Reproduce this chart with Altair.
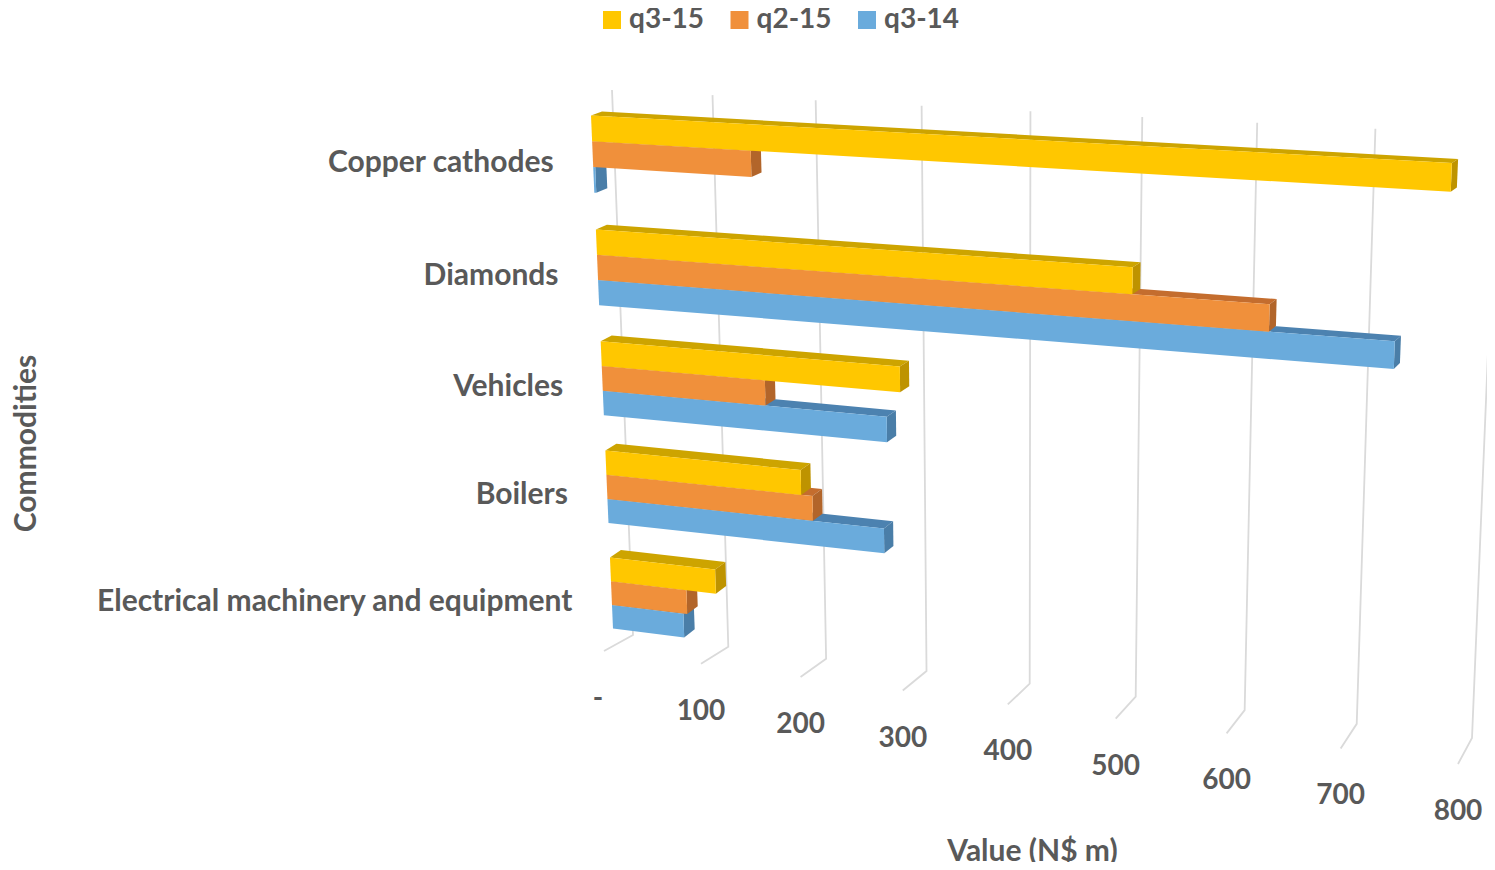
import altair as alt
import pandas as pd

categories = ["Copper cathodes", "Diamonds", "Vehicles", "Boilers", "Electrical machinery and equipment"]
series = ["q3-15", "q2-15", "q3-14"]
q3_15 = [771, 505, 293, 196, 108]
q2_15 = [155, 624, 163, 207, 78]
q3_14 = [2, 730, 280, 276, 74]
ticks = [0, 100, 200, 300, 400, 500, 600, 700, 800]
tick_labels = ["-", "100", "200", "300", "400", "500", "600", "700", "800"]
front_colors = ["#FFC700", "#F0903B", "#6AABDC"]
top_colors = ["#CDA400", "#C46D2E", "#4C82B0"]
side_colors = ["#BE9300", "#B2652A", "#4A7EA8"]
FONT = "Lato"
TEXT = "#595959"

VMAX = 800.0
NROWS = 4.675
BAR = 0.225
K_V = 1.115
K_C = 0.952


def u_of(v):
    t = v / VMAX
    return t / (t + K_V * (1 - t))


def q_of(c):
    s = c / NROWS
    return s / (s + K_C * (1 - s))


def bil(pl, u, q):
    (a, b, c, d) = pl  # v0c0, v0c1, v1c0, v1c1
    x = (1 - u) * ((1 - q) * a[0] + q * b[0]) + u * ((1 - q) * c[0] + q * d[0])
    y = (1 - u) * ((1 - q) * a[1] + q * b[1]) + u * ((1 - q) * c[1] + q * d[1])
    return x, y


FRONT = ((591, 115.5), (613, 628.5), (1488, 165), (1463, 735))
BACK = ((602, 111.5), (624, 620.5), (1494, 161), (1468, 726))
WALL = ((612, 90), (633, 635), (1497, 135), (1472, 738))
FLOOR_BACK = ((633, 635), (1472, 738))
FLOOR_FRONT = ((604, 651), (1458, 764))


def line_pt(seg, v):
    u = u_of(v)
    return (seg[0][0] + u * (seg[1][0] - seg[0][0]), seg[0][1] + u * (seg[1][1] - seg[0][1]))


# faces of every bar, drawn lowest series first
values = [q3_15, q2_15, q3_14]
front_rows, shade_rows = [], []
pid = 0
for ci in reversed(range(len(categories))):
    for si in reversed(range(len(series))):
        v = values[si][ci]
        c0 = ci + si * BAR
        c1 = c0 + BAR
        q0, q1 = q_of(c0), q_of(c1)
        u0, u1 = 0.0, u_of(v)
        f = lambda u, q: bil(FRONT, u, q)
        b = lambda u, q: bil(BACK, u, q)
        front = [f(u0, q0), f(u1, q0), f(u1, q1), f(u0, q1)]
        top = [f(u0, q0), b(u0, q0), b(u1, q0), f(u1, q0)]
        side = [f(u1, q0), b(u1, q0), b(u1, q1), f(u1, q1)]
        for i, (x, y) in enumerate(top):
            shade_rows.append(dict(id=pid, o=i, x=x, y=y, shade=top_colors[si]))
        pid += 1
        for i, (x, y) in enumerate(side):
            shade_rows.append(dict(id=pid, o=i, x=x, y=y, shade=side_colors[si]))
        pid += 1
        for i, (x, y) in enumerate(front):
            front_rows.append(dict(id=pid, o=i, x=x, y=y, series=series[si]))
        pid += 1

grid_rows = []
for t in ticks:
    u = u_of(t)
    pts = [bil(WALL, u, 0.0), line_pt(FLOOR_BACK, t), line_pt(FLOOR_FRONT, t)]
    for i, (x, y) in enumerate(pts):
        grid_rows.append(dict(t=t, o=i, x=x, y=y))

tick_rows = []
for t, lab in zip(ticks, tick_labels):
    x, y = line_pt(FLOOR_FRONT, t)
    tick_rows.append(dict(x=x - (6 if t == 0 else 0), y=y + 48, label=lab))

cat_rows = []
for ci, name in enumerate(categories):
    c = ci + 1.5 * BAR
    x, y = bil(FRONT, 0.0, q_of(c))
    cat_rows.append(dict(x=x - 39, y=y + 8.5, label=name))

X0, Y0 = 8, 8
W, H = 1479, 854
xs = alt.Scale(domain=[X0, X0 + W], nice=False, zero=False)
ys = alt.Scale(domain=[Y0 + H, Y0], nice=False, zero=False)
X = alt.X("x:Q", scale=xs, axis=alt.Axis(
    title="Value (N$ m)", labels=False, ticks=False, domain=False, grid=False,
    titleX=1024, titleY=-11, titleBaseline="middle", titleAlign="center",
    titleFont=FONT, titleFontSize=30, titleFontWeight="bold", titleColor=TEXT))
Y = alt.Y("y:Q", scale=ys, axis=alt.Axis(
    title="Commodities", labels=False, ticks=False, domain=False, grid=False,
    titleX=18, titleY=435, titleAngle=270, titleBaseline="middle", titleAlign="center",
    titleFont=FONT, titleFontSize=30, titleFontWeight="bold", titleColor=TEXT))

grid = alt.Chart(pd.DataFrame(grid_rows)).mark_line(color="#DADADA", strokeWidth=1.8, clip=True).encode(
    x=X, y=Y, detail="t:N", order="o:Q")

shades = alt.Chart(pd.DataFrame(shade_rows)).mark_line(
    interpolate="linear-closed", filled=True, strokeWidth=0).encode(
    x=X, y=Y,
    fill=alt.Fill("shade:N", scale=None, legend=None),
    detail="id:N", order="o:Q")

fronts = alt.Chart(pd.DataFrame(front_rows)).mark_line(
    interpolate="linear-closed", filled=True, strokeWidth=0).encode(
    x=X, y=Y,
    fill=alt.Fill("series:N", scale=alt.Scale(domain=series, range=front_colors), legend=alt.Legend(
        title=None, orient="none", legendX=590, legendY=-2, direction="horizontal",
        symbolType="square", symbolSize=324, symbolStrokeWidth=0, symbolOpacity=1,
        labelFont=FONT, labelFontSize=28, labelFontWeight="bold", labelColor=TEXT,
        labelOffset=3, columnPadding=20.5, columns=3)),
    detail="id:N", order="o:Q")

tick_text = alt.Chart(pd.DataFrame(tick_rows)).mark_text(
    font=FONT, fontSize=28, fontWeight="bold", color=TEXT, baseline="middle", align="center").encode(
    x=X, y=Y, text="label:N")

cat_text = alt.Chart(pd.DataFrame(cat_rows)).mark_text(
    font=FONT, fontSize=30, fontWeight="bold", color=TEXT, baseline="middle", align="right").encode(
    x=X, y=Y, text="label:N")

chart = alt.layer(
    grid, shades, fronts, tick_text, cat_text
).resolve_scale(fill="independent").properties(
    width=W, height=H, padding=0, autosize="none", background="#FFFFFF"
).configure_view(stroke=None)

chart.save("out.html", embed_options={"renderer": "svg", "actions": False})
